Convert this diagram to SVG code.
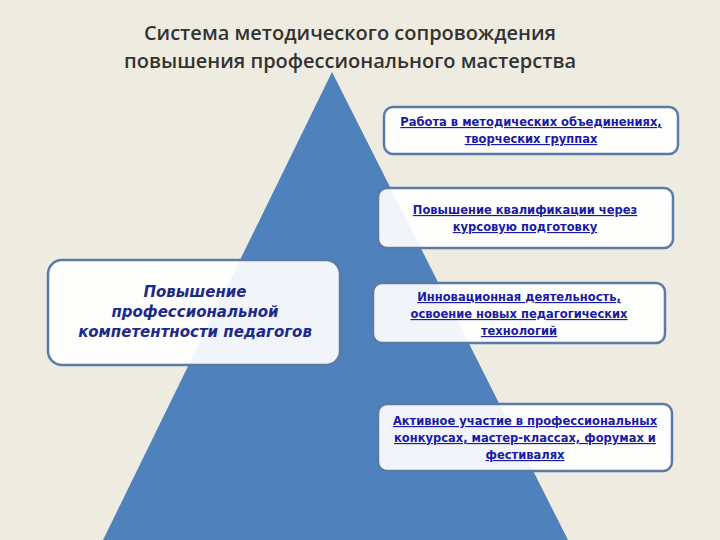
<svg xmlns="http://www.w3.org/2000/svg" width="720" height="540" viewBox="0 0 720 540">
<style>
.box{fill:#fff;fill-opacity:0.92;stroke:#5b7aa6;stroke-width:2.5}
.t{font-family:"DejaVu Sans",sans-serif;font-size:11.5px;font-weight:bold;fill:#1a1aa6;text-decoration:underline;text-anchor:middle}
.big{font-family:"DejaVu Sans",sans-serif;font-size:15px;font-style:italic;font-weight:bold;fill:#1c2a8a;text-anchor:middle}
</style>
<rect width="720" height="540" fill="#eeece1"/>
<g id="title"><text x="350" y="40" font-family="Open Sans, sans-serif" font-size="20" fill="#333" text-anchor="middle" font-weight="600">Система методического сопровождения</text>
<text x="350" y="68" font-family="Open Sans, sans-serif" font-size="20" fill="#333" text-anchor="middle" font-weight="600">повышения профессионального мастерства</text></g>
<g id="pyramid"><polygon points="332,72 103,540 568,540" fill="#4f81bd"/></g>
<g id="n1"><rect class="box" x="384" y="107" width="294" height="47" rx="9"/><text class="t" x="531" y="126">Работа в методических объединениях,</text><text class="t" x="531" y="143">творческих группах</text></g>
<g id="n2"><rect class="box" x="378" y="188" width="295" height="60" rx="9"/><text class="t" x="525" y="214">Повышение квалификации через</text><text class="t" x="525" y="231">курсовую подготовку</text></g>
<g id="n3"><rect class="box" x="48" y="260" width="292" height="105" rx="14"/><text class="big" x="195" y="297">Повышение</text><text class="big" x="195" y="317">профессиональной</text><text class="big" x="195" y="337">компетентности  педагогов</text></g>
<g id="n4"><rect class="box" x="373" y="283" width="292" height="60" rx="9"/><text class="t" x="519" y="301">Инновационная деятельность,</text><text class="t" x="519" y="318">освоение новых педагогических</text><text class="t" x="519" y="335">технологий</text></g>
<g id="n5"><rect class="box" x="378" y="404" width="294" height="67" rx="9"/><text class="t" x="525" y="425">Активное участие в профессиональных</text><text class="t" x="525" y="442">конкурсах, мастер-классах, форумах и</text><text class="t" x="525" y="459">фестивалях</text></g>
<g id="connectors"/>
</svg>
